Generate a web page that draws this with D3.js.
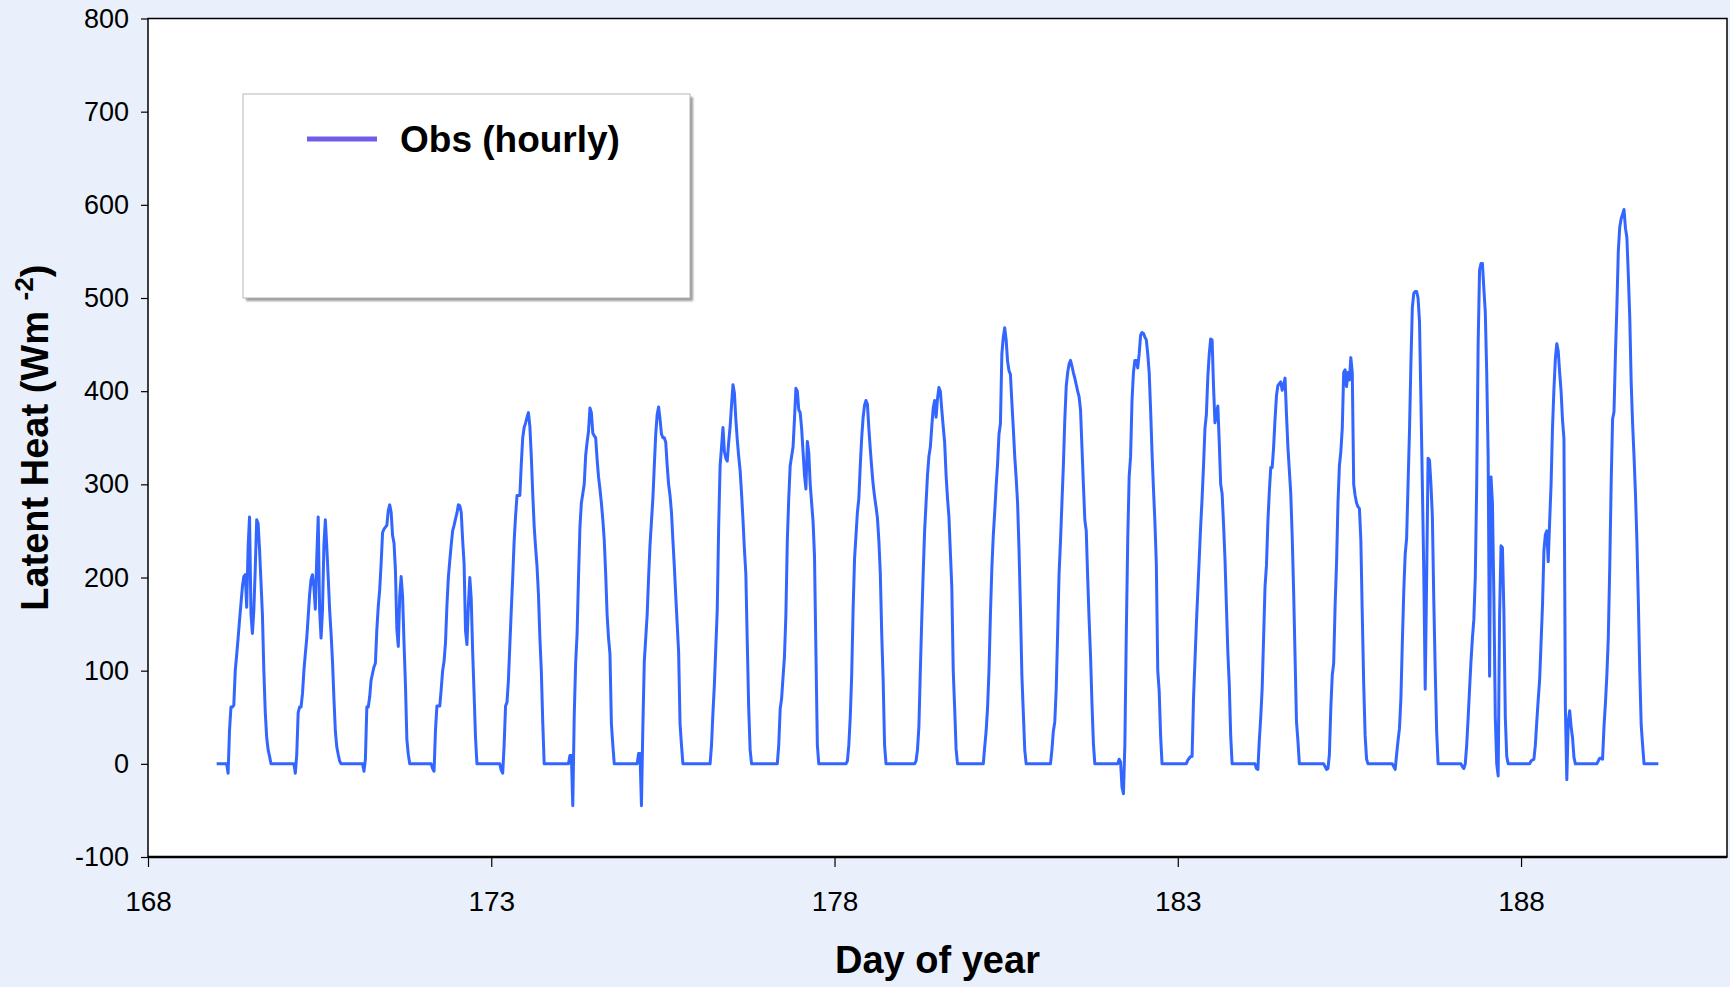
<!DOCTYPE html>
<html>
<head>
<meta charset="utf-8">
<script src="https://cdn.jsdelivr.net/npm/d3@7"></script>
<style>
  html, body { margin: 0; padding: 0; background: #eaf0fb; }
  svg { display: block; font-family: "Liberation Sans", Arial, Helvetica, sans-serif; }
</style>
</head>
<body>
<svg id="chart" width="1730" height="987"></svg>
<script>
// Latent heat flux observations, half-hourly samples (W m-2), one array per day of year.
// Each array starts at 00:00 of that day; 48 samples per day.
const firstDay = 169;
const samplesPerDay = 48;

const day169 = [0,0,0,0,0,0,0,0,-10,36,61,61,63,100,117,135,154,172,190,201,203,168,233,265,
                161,140,165,210,262,258,230,195,160,100,55,28,15,8,0,0,0,0,0,0,0,0,0,0];
const day170 = [0,0,0,0,0,0,0,-10,10,55,61,61,75,100,118,135,158,182,198,203,190,166,222,265,
                165,135,165,235,262,233,200,165,140,110,70,35,18,10,3,0,0,0,0,0,0,0,0,0];
const day171 = [0,0,0,0,0,0,0,-8,5,61,61,72,90,97,104,108,144,169,187,215,248,252,254,256,
                272,278,270,245,237,208,144,126,180,201,180,130,85,26,10,0,0,0,0,0,0,0,0,0];
const day172 = [0,0,0,0,0,0,0,-5,-8,36,62,62,62,80,100,110,130,170,200,218,235,250,256,263,
                269,278,277,270,240,215,143,128,170,200,177,120,75,28,0,0,0,0,0,0,0,0,0,0];
const day173 = [0,0,0,0,0,0,0,-7,-10,20,62,66,90,128,165,200,239,266,288,288,288,322,350,361,
                366,372,377,362,330,290,255,232,212,182,135,100,45,0,0,0,0,0,0,0,0,0,0,0];
const day174 = [0,0,0,0,0,0,0,9,9,-45,51,108,139,200,254,280,290,300,331,345,357,382,377,355,
                352,350,327,308,295,280,262,240,204,160,135,118,43,20,0,0,0,0,0,0,0,0,0,0];
const day175 = [0,0,0,0,0,0,0,11,11,-45,40,110,135,160,200,235,260,285,320,354,375,383,370,354,
                350,350,345,320,300,288,270,240,212,180,150,120,43,20,0,0,0,0,0,0,0,0,0,0];
const day176 = [0,0,0,0,0,0,0,0,0,0,20,55,85,125,165,255,320,340,361,335,328,325,345,362,
                385,407,398,370,348,330,315,290,262,230,204,130,60,15,0,0,0,0,0,0,0,0,0,0];
const day177 = [0,0,0,0,0,0,0,0,0,20,59,70,93,115,160,240,285,320,330,340,370,403,400,380,
                377,360,335,310,295,346,334,300,280,260,223,120,20,0,0,0,0,0,0,0,0,0,0,0];
const day178 = [0,0,0,0,0,0,0,0,0,3,20,50,95,166,220,245,270,285,320,350,372,385,390,386,
                360,338,318,300,287,276,264,240,205,140,90,20,0,0,0,0,0,0,0,0,0,0,0,0];
const day179 = [0,0,0,0,0,0,0,0,0,3,15,40,100,155,205,250,280,310,330,340,362,382,390,372,
                392,404,400,380,362,345,310,285,265,227,190,100,60,16,0,0,0,0,0,0,0,0,0,0];
const day180 = [0,0,0,0,0,0,0,0,0,18,35,60,100,160,210,245,270,298,322,354,365,440,458,468,
                455,432,422,418,388,360,330,307,280,230,166,95,55,15,0,0,0,0,0,0,0,0,0,0];
const day181 = [0,0,0,0,0,0,0,0,15,35,45,80,140,204,239,280,320,369,405,420,429,433,427,420,
                414,407,400,394,380,340,300,262,250,200,155,116,65,22,0,0,0,0,0,0,0,0,0,0];
const day182 = [0,0,0,0,0,0,0,5,2,-25,-32,20,140,240,308,330,390,420,433,433,425,440,460,463,
                462,458,455,440,420,380,334,295,260,215,100,78,30,0,0,0,0,0,0,0,0,0,0,0];
const day183 = [0,0,0,0,0,0,0,4,6,8,8,70,110,150,185,220,255,285,320,360,375,415,440,456,
                455,405,366,375,384,345,300,290,257,220,170,120,85,30,0,0,0,0,0,0,0,0,0,0];
const day184 = [0,0,0,0,0,0,0,-5,-6,25,50,81,135,190,213,260,292,318,318,340,370,395,406,408,
                410,401,406,414,375,340,315,290,244,185,115,45,25,0,0,0,0,0,0,0,0,0,0,0];
const day185 = [0,0,0,0,0,0,0,-3,-6,-5,10,60,95,108,170,215,280,320,335,360,420,423,405,420,
                412,436,420,300,288,280,276,274,240,160,85,30,5,0,0,0,0,0,0,0,0,0,0,0];
const day186 = [0,0,0,0,0,0,0,-3,-6,10,25,38,70,130,185,225,242,300,357,430,490,505,507,507,
                500,475,390,300,205,80,200,328,326,300,266,175,100,35,0,0,0,0,0,0,0,0,0,0];
const day187 = [0,0,0,0,0,0,0,-3,-5,0,20,49,80,110,135,155,200,300,450,530,537,537,510,485,
                420,330,94,308,280,180,50,0,-13,160,234,232,164,50,8,0,0,0,0,0,0,0,0,0];
const day188 = [0,0,0,0,0,0,0,3,4,5,20,45,69,90,130,170,229,246,250,217,260,300,361,402,
                435,451,443,420,400,369,349,60,-17,45,57,40,28,7,0,0,0,0,0,0,0,0,0,0];
const day189 = [0,0,0,0,0,0,3,6,6,5,40,65,95,135,210,300,370,378,440,490,550,576,585,590,
                595,575,565,525,480,410,365,330,290,240,175,100,42,20,0,0,0,0,0,0,0,0,0,0];
const day190 = [0];

const dailySeries = [day169, day170, day171, day172, day173, day174, day175, day176, day177,
                     day178, day179, day180, day181, day182, day183, day184, day185, day186,
                     day187, day188, day189, day190];

const xTickValues = [168, 173, 178, 183, 188];
const yTickValues = [-100, 0, 100, 200, 300, 400, 500, 600, 700, 800];
const xDomain = [168, 191];
const yDomain = [-100, 800];
const seriesName = "Obs (hourly)";
const xTitle = "Day of year";

// Flatten the daily arrays into (day-of-year, value) pairs
const points = [];
dailySeries.forEach((vals, d) => {
  vals.forEach((v, i) => points.push({ t: firstDay + d + i / samplesPerDay, v: v }));
});

const svg = d3.select("#chart");
const plot = { left: 148, right: 1727, top: 18.5, bottom: 857 };

const x = d3.scaleLinear().domain(xDomain).range([plot.left, plot.right]);
const y = d3.scaleLinear().domain(yDomain).range([plot.bottom, plot.top]);

// Plot area
svg.append("rect")
  .attr("x", plot.left).attr("y", plot.top)
  .attr("width", plot.right - plot.left).attr("height", plot.bottom - plot.top)
  .attr("fill", "#ffffff").attr("stroke", "#000").attr("stroke-width", 1.5);

svg.append("defs").html(`
  <clipPath id="plotClip"><rect x="${plot.left}" y="${plot.top}" width="${plot.right - plot.left}" height="${plot.bottom - plot.top}"/></clipPath>
  <filter id="softShadow" x="-5%" y="-5%" width="115%" height="115%"><feGaussianBlur stdDeviation="1.3"/></filter>
`);

// Plain hyphen-minus labels
const plainNumber = d => String(d);

// Y axis
const yAxis = svg.append("g")
  .attr("transform", `translate(${plot.left},0)`)
  .call(d3.axisLeft(y).tickValues(yTickValues).tickSize(7).tickPadding(12).tickFormat(plainNumber));
yAxis.select(".domain").remove();
yAxis.selectAll(".tick line").attr("stroke", "#000").attr("stroke-width", 1.2);
yAxis.selectAll(".tick text").attr("fill", "#000").attr("font-size", 27)
  .attr("font-family", "'Liberation Sans', Arial, sans-serif");

// X axis
const xAxis = svg.append("g")
  .attr("transform", `translate(0,${plot.bottom})`)
  .call(d3.axisBottom(x).tickValues(xTickValues).tickSize(10).tickPadding(24).tickFormat(plainNumber));
xAxis.select(".domain").remove();
xAxis.selectAll(".tick line").attr("stroke", "#000").attr("stroke-width", 1.2);
xAxis.selectAll(".tick text").attr("fill", "#000").attr("font-size", 28)
  .attr("font-family", "'Liberation Sans', Arial, sans-serif");

// Heavier bottom frame line
svg.append("line")
  .attr("x1", plot.left).attr("x2", plot.right)
  .attr("y1", plot.bottom).attr("y2", plot.bottom)
  .attr("stroke", "#000").attr("stroke-width", 2.5);

// Legend box with shadow
const legend = { x: 243, y: 94, w: 447, h: 204 };
svg.append("rect")
  .attr("x", legend.x + 3).attr("y", legend.y + 3)
  .attr("width", legend.w).attr("height", legend.h)
  .attr("fill", "#9a9a9a").attr("filter", "url(#softShadow)");
svg.append("rect")
  .attr("x", legend.x).attr("y", legend.y)
  .attr("width", legend.w).attr("height", legend.h)
  .attr("fill", "#ffffff").attr("stroke", "#b5b5b5").attr("stroke-width", 1);
svg.append("line")
  .attr("x1", 307).attr("x2", 377).attr("y1", 139).attr("y2", 139)
  .attr("stroke", "#6f5de8").attr("stroke-width", 5);
svg.append("text")
  .attr("x", 400).attr("y", 152)
  .attr("font-size", 37).attr("font-weight", "bold").attr("fill", "#000")
  .text(seriesName);

// Data line
const line = d3.line().x(d => x(d.t)).y(d => y(d.v));
svg.append("path")
  .datum(points)
  .attr("clip-path", "url(#plotClip)")
  .attr("d", line)
  .attr("fill", "none")
  .attr("stroke", "#3366ff")
  .attr("stroke-width", 3)
  .attr("stroke-linejoin", "round");

// Axis titles
svg.append("text")
  .attr("x", (plot.left + plot.right) / 2).attr("y", 973)
  .attr("text-anchor", "middle")
  .attr("font-size", 38).attr("font-weight", "bold").attr("fill", "#000")
  .text(xTitle);

const yTitle = svg.append("text")
  .attr("transform", `translate(48,${(plot.top + plot.bottom) / 2}) rotate(-90)`)
  .attr("text-anchor", "middle")
  .attr("font-size", 38).attr("font-weight", "bold").attr("fill", "#000");
yTitle.append("tspan").text("Latent Heat (Wm ");
yTitle.append("tspan").attr("font-size", 26).attr("baseline-shift", "super").text("-2");
yTitle.append("tspan").text(")");
</script>
</body>
</html>
